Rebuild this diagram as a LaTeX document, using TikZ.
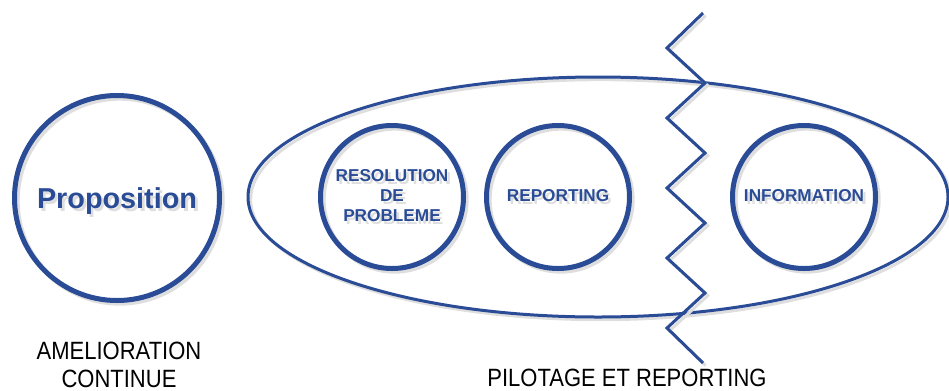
\documentclass[tikz,border=0pt]{standalone}
\usepackage{fontspec}
\setmainfont{Liberation Sans}
\newfontfamily\narrowfont[FakeStretch=0.88]{Liberation Sans}
\usetikzlibrary{shapes.geometric}

\definecolor{reportblue}{RGB}{42,75,149}
\definecolor{shadowgrey}{RGB}{222,222,222}
% text with a soft grey copy behind it
\newcommand{\shd}[1]{\makebox[0pt][l]{\kern2pt\raisebox{-2.5pt}{\color{shadowgrey}#1}}#1}

\tikzset{
  shadowed/.style={preaction={draw=shadowgrey,line width=#1,transform canvas={shift={(2pt,-2pt)}}}},
  bigring/.style={circle,draw=reportblue,line width=3.75pt,minimum size=153.75pt,inner sep=0pt,shadowed=3.75pt,text=reportblue,text depth=0pt,font=\bfseries\fontsize{21.6}{26}\selectfont},
  ring/.style={circle,draw=reportblue,line width=3.75pt,minimum size=107.25pt,inner sep=0pt,shadowed=3.75pt,text=reportblue,align=center,font=\bfseries\fontsize{12.9}{15}\selectfont},
  caption/.style={font=\narrowfont\fontsize{18.75}{21}\selectfont,align=center,inner sep=0pt},
}

\begin{document}
\begin{tikzpicture}[x=0.75pt,y=-0.75pt]
   \useasboundingbox (0,0) rectangle (949,390);
   % the loop of the steering part
   \node[ellipse,draw=reportblue,line width=2.25pt,minimum width=525pt,minimum height=180pt,inner sep=0pt,shadowed=2.25pt] (pilotage) at (598,197) {};
   \draw[reportblue,line width=2.25pt,shadowed=2.25pt] plot coordinates{(703,13) (667,48) (705,83) (667,118) (705,153) (667,188) (705,223) (667,258) (705,293) (667,328) (703,363)};
   \node[bigring] (proposition) at (117,198) {\shd{Proposition}};
   \node[ring] (resolution) at (392,197) {\shd{RESOLUTION}\\\shd{DE}\\\shd{PROBLEME}};
   \node[ring] (reporting) at (558,197) {\shd{REPORTING}};
   \node[ring] (information) at (804,197) {\shd{INFORMATION}};
   \node[caption,anchor=south] (amelioration) at (119,388) {AMELIORATION\\CONTINUE};
   \node[caption,anchor=base] (pilotagetext) at (627,386) {PILOTAGE ET REPORTING};
\end{tikzpicture}
\end{document}
